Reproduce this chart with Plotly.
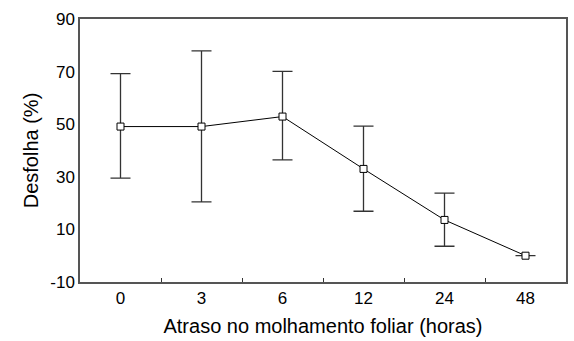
import plotly.graph_objects as go

categories = ["0", "3", "6", "12", "24", "48"]
desfolha = [49.1, 49.1, 52.9, 33.0, 13.6, 0.0]
upper = [69.2, 77.9, 70.1, 49.3, 23.8, 0.0]
lower = [29.5, 20.5, 36.4, 16.9, 3.6, 0.0]
y_ticks = [-10, 10, 30, 50, 70, 90]
y_tick_text = ["-10", "10", "30", "50", "70", "90"]

err_plus = [u - m for u, m in zip(upper, desfolha)]
err_minus = [m - l for m, l in zip(desfolha, lower)]

fig = go.Figure()
fig.add_trace(go.Scatter(
    x=categories, y=desfolha, mode="lines+markers",
    line=dict(color="black", width=1),
    marker=dict(symbol="square", size=7, color="white",
                line=dict(color="black", width=1)),
    error_y=dict(type="data", symmetric=False, array=err_plus,
                 arrayminus=err_minus, color="#333333", thickness=1.3, width=10),
    showlegend=False,
))

fig.update_layout(
    width=574, height=341,
    margin=dict(l=80, r=6, t=19, b=59),
    paper_bgcolor="white", plot_bgcolor="white",
    font=dict(family="Liberation Sans, Arial, sans-serif", size=17, color="black"),
)
fig.update_xaxes(
    type="category", range=[-0.5, 5.5],
    showline=True, linecolor="#555555", linewidth=1.5, mirror=True,
    ticks="inside", tickson="boundaries", ticklen=4, tickcolor="#333333",
    showgrid=False, zeroline=False,
    tickfont=dict(size=17),
    title=dict(text="Atraso no molhamento foliar (horas)", standoff=12,
               font=dict(size=20)),
)
fig.update_yaxes(
    range=[-10, 90], tickvals=y_ticks, ticktext=y_tick_text,
    showline=True, linecolor="#555555", linewidth=1.5, mirror=True,
    ticks="", showgrid=False, zeroline=False,
    tickfont=dict(size=17),
    title=dict(text="Desfolha (%)", standoff=6, font=dict(size=20)),
)

fig.write_html("out.html")
